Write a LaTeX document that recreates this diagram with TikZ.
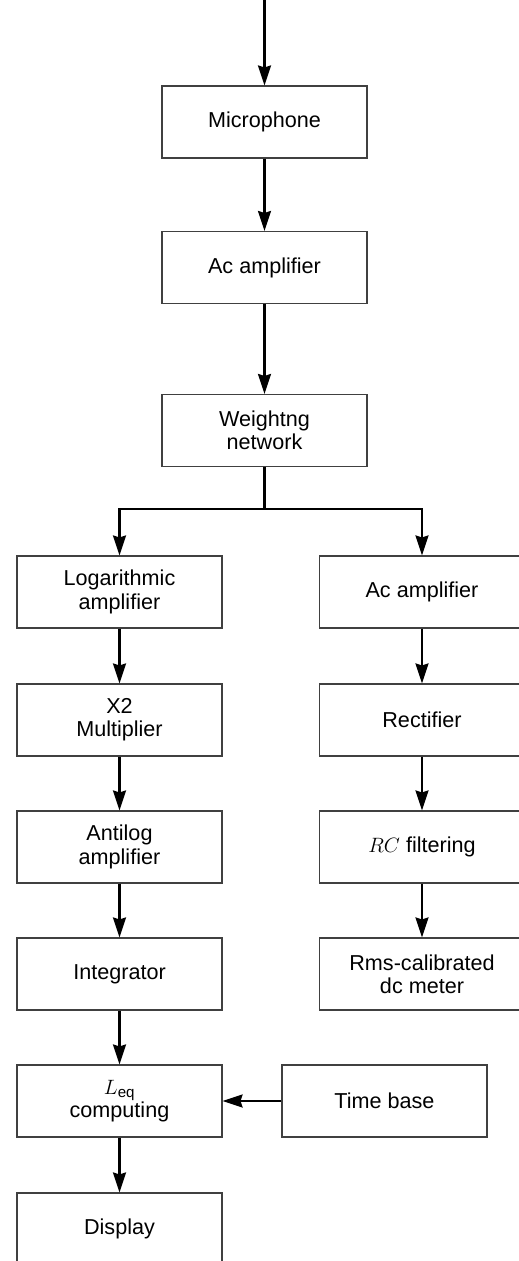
\documentclass[tikz,border=0pt]{standalone}
\usepackage{amsmath}
\usepackage{fontspec}
\setmainfont{Liberation Sans}
\usetikzlibrary{arrows.meta}
\begin{document}
\begin{tikzpicture}[x=1pt,y=-1pt,
  blk/.style={draw=black!75, line width=1.1pt, minimum width=205pt, minimum height=72pt,
    inner sep=0pt, align=center, font=\fontsize{21.6}{23.3}\selectfont},
  flow/.style={line width=2.3pt, -{Stealth[length=20pt,width=13pt,inset=2pt]}},
  wire/.style={line width=2.3pt}]
\useasboundingbox (0,0) rectangle (519,1261);
\clip (0,0) rectangle (519,1261);

% main chain
\coordinate (in) at (264.5,0);
\node[blk] (mic) at (264.5,122) {Microphone};
\node[blk] (ac1) at (264.5,267.5) {Ac amplifier};
\node[blk] (wn)  at (264.5,430.5) {Weightng\\network};
\coordinate (split) at (264.5,509);

% left branch
\node[blk] (log)  at (119.5,592) {Logarithmic\\amplifier};
\node[blk] (x2)   at (119.5,720) {X2\\Multiplier};
\node[blk] (anti) at (119.5,847) {Antilog\\amplifier};
\node[blk] (int)  at (119.5,974) {Integrator};
\node[blk] (leq)  at (119.5,1101) {$L_{\text{eq}}$\\computing};
\node[blk] (disp) at (119.5,1229) {Display};
\node[blk] (tb)   at (384.5,1101) {Time base};

% right branch
\node[blk] (ac2)  at (422,592) {Ac amplifier};
\node[blk] (rect) at (422,720) {Rectifier};
\node[blk] (rc)   at (422,847) {$RC$ filtering};
\node[blk] (rms)  at (422,974) {Rms-calibrated\\dc meter};

% connectors
\draw[flow] (in) -- (mic.north);
\draw[flow] (mic) -- (ac1);
\draw[flow] (ac1) -- (wn);
\draw[wire] (wn.south) -- (split);
\draw[flow] (split) -| (log.north);
\draw[flow] (split) -| (ac2.north);
\draw[flow] (log) -- (x2);
\draw[flow] (x2) -- (anti);
\draw[flow] (anti) -- (int);
\draw[flow] (int) -- (leq);
\draw[flow] (leq) -- (disp);
\draw[flow] (tb) -- (leq);
\draw[flow] (ac2) -- (rect);
\draw[flow] (rect) -- (rc);
\draw[flow] (rc) -- (rms);
\end{tikzpicture}
\end{document}
